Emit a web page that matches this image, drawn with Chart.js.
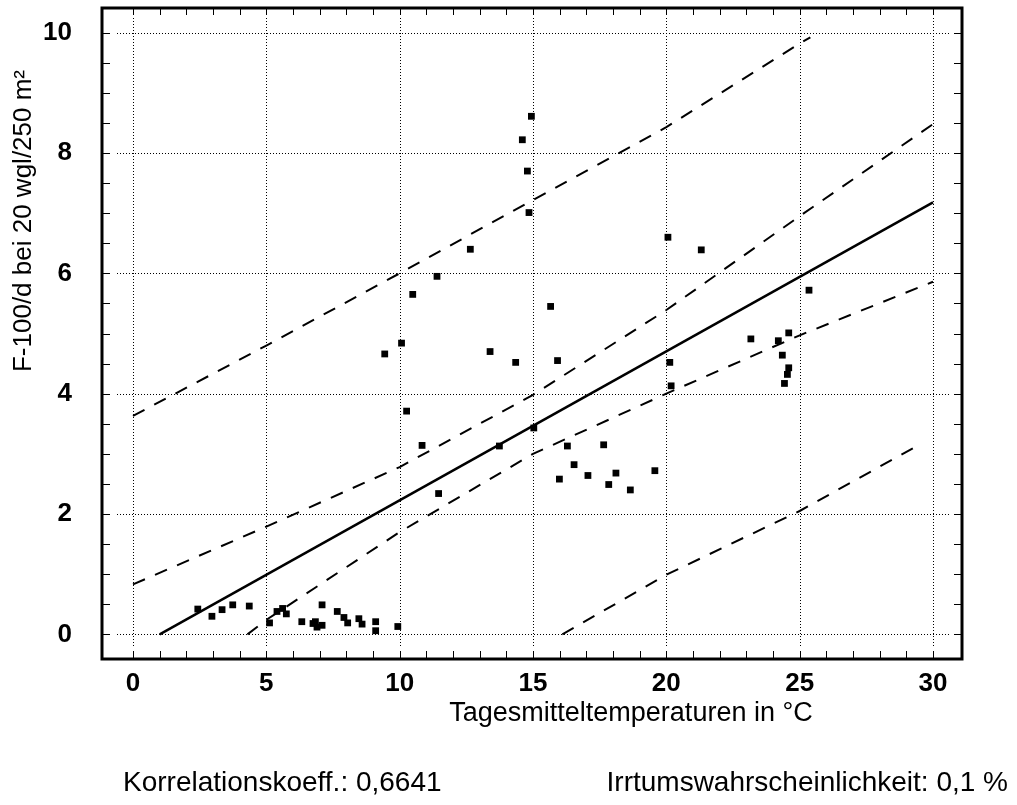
<!DOCTYPE html>
<html lang="de">
<head>
<meta charset="UTF-8">
<title>F-100/d gegen Tagesmitteltemperatur</title>
<script src="https://cdn.jsdelivr.net/npm/chart.js"></script>
<style>
    html, body { margin: 0; padding: 0; background: #fff; }
</style>
</head>
<body>
<canvas id="grafico" width="1017" height="805"></canvas>

<script>
    // Messpunkte (Tagesmitteltemperatur / F-100 pro Tag)
    var temperatur = [
        2.43, 2.96, 3.34, 3.74, 4.36, 5.12, 5.40, 5.61, 5.75, 6.33,
        6.75, 6.84, 6.90, 7.09, 7.09, 7.66, 7.91, 8.05, 8.47, 8.59,
        9.10, 9.10, 9.93, 9.44, 10.07, 10.26, 10.84, 11.46, 10.49, 11.40,
        12.65, 13.39, 14.35, 14.94, 14.60, 14.79, 14.85, 15.66, 15.92, 15.03,
        13.74, 16.29, 17.65, 16.54, 15.99, 17.06, 18.11, 17.84, 18.65, 19.57,
        20.06, 21.31, 20.13, 20.18, 23.17, 24.20, 24.59, 24.35, 24.59, 24.54,
        24.43, 25.35
    ];
    var fangzahl = [
        0.42, 0.30, 0.41, 0.49, 0.47, 0.19, 0.38, 0.43, 0.34, 0.21,
        0.18, 0.21, 0.12, 0.15, 0.49, 0.38, 0.28, 0.19, 0.26, 0.17,
        0.21, 0.06, 0.13, 4.66, 4.84, 3.71, 3.14, 2.34, 5.65, 5.95,
        6.40, 4.70, 4.52, 8.61, 8.22, 7.70, 7.01, 5.45, 4.55, 3.43,
        3.13, 3.13, 3.15, 2.82, 2.58, 2.64, 2.68, 2.49, 2.40, 2.72,
        6.60, 6.39, 4.52, 4.13, 4.91, 4.88, 5.01, 4.64, 4.43, 4.32,
        4.17, 5.72
    ];

    // Regressionsgerade
    var regX = [1.0, 30];
    var regY = [0.0, 7.18];

    // Vertrauensbereich (innen)
    var innenObenX = [0, 5, 10, 15, 20, 25, 30];
    var innenObenY = [0.83, 1.79, 2.78, 3.98, 5.39, 6.95, 8.48];
    var innenUntenX = [4.29, 5, 10, 15, 20, 25, 30];
    var innenUntenY = [0, 0.24, 1.70, 3.00, 4.00, 4.97, 5.86];

    // Prognosebereich (aussen)
    var aussenObenX = [0, 5, 10, 15, 20, 25, 25.4];
    var aussenObenY = [3.63, 4.80, 6.00, 7.22, 8.43, 9.82, 9.92];
    var aussenUntenX = [16.1, 20, 25, 29.6];
    var aussenUntenY = [0, 0.99, 2.05, 3.18];

    // Achsen
    var xTicks = [0, 5, 10, 15, 20, 25, 30];
    var yTicks = [0, 2, 4, 6, 8, 10];

    var tituloX = 'Tagesmitteltemperaturen in °C';
    var tituloY = 'F-100/d bei 20 wgl/250 m²';
    var textoKorrelation = 'Korrelationskoeff.: 0,6641';
    var textoIrrtum = 'Irrtumswahrscheinlichkeit: 0,1 %';

    function pontos(xs, ys) {
        var lista = [];
        for (let i = 0; i < xs.length; i++) {
            lista.push({ x: xs[i], y: ys[i] });
        }
        return lista;
    }

    function linhaTracejada(xs, ys) {
        return {
            type: 'line',
            data: pontos(xs, ys),
            borderColor: '#000',
            borderWidth: 2,
            borderDash: [13, 11],
            pointRadius: 0,
            fill: false,
            tension: 0
        };
    }

    var fonte = '"Liberation Sans", Arial, sans-serif';

    // grade pontilhada, moldura, marcas e textos
    const molduraPlugin = {
        id: 'moldura',
        beforeDatasetsDraw(chart) {
            const { ctx, chartArea: a, scales: { x, y } } = chart;
            ctx.save();
            ctx.strokeStyle = '#000';
            ctx.lineWidth = 1;
            ctx.setLineDash([1, 2]);
            xTicks.forEach(v => {
                const px = Math.round(x.getPixelForValue(v)) + 0.5;
                ctx.beginPath();
                ctx.moveTo(px, a.top + 10);
                ctx.lineTo(px, a.bottom - 12);
                ctx.stroke();
            });
            yTicks.forEach(v => {
                const py = Math.round(y.getPixelForValue(v)) + 0.5;
                ctx.beginPath();
                ctx.moveTo(a.left + 15, py);
                ctx.lineTo(a.right - 13, py);
                ctx.stroke();
            });
            ctx.restore();
        },
        afterDatasetsDraw(chart) {
            const { ctx, chartArea: a, scales: { x, y } } = chart;
            ctx.save();
            ctx.strokeStyle = '#000';
            ctx.lineWidth = 1;
            ctx.beginPath();
            for (let v = 0; v <= 30; v++) {
                const px = Math.round(x.getPixelForValue(v)) + 0.5;
                ctx.moveTo(px, a.bottom);
                ctx.lineTo(px, a.bottom - 8);
                ctx.moveTo(px, a.top);
                ctx.lineTo(px, a.top + 7);
            }
            for (let v = 0; v <= 10; v += 0.5) {
                const py = Math.round(y.getPixelForValue(v)) + 0.5;
                ctx.moveTo(a.left, py);
                ctx.lineTo(a.left + 8, py);
                ctx.moveTo(a.right, py);
                ctx.lineTo(a.right - 8, py);
            }
            ctx.stroke();

            ctx.lineWidth = 3;
            ctx.strokeRect(a.left, a.top, a.right - a.left, a.bottom - a.top);
            ctx.restore();
        },
        afterDraw(chart) {
            const ctx = chart.ctx;
            ctx.save();
            ctx.fillStyle = '#000';
            ctx.textBaseline = 'alphabetic';

            ctx.font = '27px ' + fonte;
            ctx.textAlign = 'center';
            ctx.fillText(tituloX, 631, 721);

            ctx.font = '26px ' + fonte;
            ctx.translate(31, 221);
            ctx.rotate(-Math.PI / 2);
            ctx.fillText(tituloY, 0, 0);
            ctx.setTransform(1, 0, 0, 1, 0, 0);

            ctx.font = '28px ' + fonte;
            ctx.textAlign = 'left';
            ctx.fillText(textoKorrelation, 123, 791);
            ctx.textAlign = 'right';
            ctx.fillText(textoIrrtum, 1008, 791);
            ctx.restore();
        }
    };

    var canvas = document.getElementById('grafico');

    new Chart(canvas, {
        type: 'scatter',
        data: {
            datasets: [
                {
                    data: pontos(temperatur, fangzahl),
                    pointStyle: 'rect',
                    pointRadius: 4.8,
                    pointBorderWidth: 0,
                    backgroundColor: '#000',
                    borderColor: '#000'
                },
                {
                    type: 'line',
                    data: pontos(regX, regY),
                    borderColor: '#000',
                    borderWidth: 2.5,
                    pointRadius: 0,
                    fill: false
                },
                linhaTracejada(innenObenX, innenObenY),
                linhaTracejada(innenUntenX, innenUntenY),
                linhaTracejada(aussenObenX, aussenObenY),
                linhaTracejada(aussenUntenX, aussenUntenY)
            ]
        },
        options: {
            responsive: false,
            animation: false,
            layout: { padding: { left: 0, right: 55, top: 8, bottom: 0 } },
            plugins: {
                legend: { display: false },
                tooltip: { enabled: false }
            },
            scales: {
                x: {
                    type: 'linear',
                    min: -1.1625,
                    max: 31.0875,
                    grid: { display: false, drawTicks: false },
                    border: { display: false },
                    afterBuildTicks: function (scale) {
                        scale.ticks = xTicks.map(v => ({ value: v }));
                    },
                    afterFit: function (scale) {
                        scale.height = 146;
                        scale.paddingLeft = 0;
                        scale.paddingRight = 0;
                    },
                    ticks: {
                        padding: 9,
                        color: '#000',
                        font: { family: fonte, size: 26, weight: 'bold' }
                    }
                },
                y: {
                    type: 'linear',
                    min: -0.41,
                    max: 10.41,
                    grid: { display: false, drawTicks: false },
                    border: { display: false },
                    afterBuildTicks: function (scale) {
                        scale.ticks = yTicks.map(v => ({ value: v }));
                    },
                    afterFit: function (scale) {
                        scale.width = 102;
                        scale.paddingTop = 0;
                        scale.paddingBottom = 0;
                    },
                    ticks: {
                        padding: 30,
                        color: '#000',
                        font: { family: fonte, size: 26, weight: 'bold' }
                    }
                }
            }
        },
        plugins: [molduraPlugin]
    });
</script>
</body>
</html>
